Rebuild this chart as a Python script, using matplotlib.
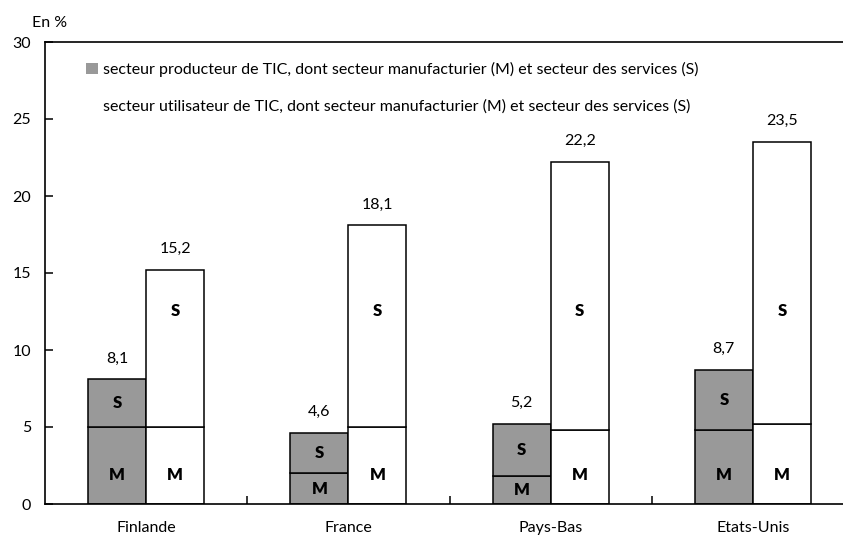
"""Part des secteurs producteur et utilisateur de TIC, par pays."""

import matplotlib.pyplot as plt
import numpy as np
from matplotlib.patches import Patch

plt.rcParams['font.family'] = ['Lato', 'DejaVu Sans']

countries = ['Finlande', 'France', 'Pays-Bas', 'Etats-Unis']

# Producer sector: total and manufacturing part (M), services (S) is the rest
prod_total = [8.1, 4.6, 5.2, 8.7]
prod_m = [5.0, 2.0, 1.8, 4.8]

# User sector: total and manufacturing part (M)
user_total = [15.2, 18.1, 22.2, 23.5]
user_m = [5.0, 5.0, 4.8, 5.2]

legend_labels = [
    'secteur producteur de TIC, dont secteur manufacturier (M) et secteur des services (S)',
    'secteur utilisateur de TIC, dont secteur manufacturier (M) et secteur des services (S)',
]

GRAY = '#999999'
FS = 11.5

fig = plt.figure(figsize=(8.43, 5.41), dpi=100)
ax = fig.add_axes([45 / 843, 37 / 541, 809 / 843, 462 / 541])

x = np.arange(len(countries))
w = 0.287
prod_s = np.array(prod_total) - np.array(prod_m)
user_s = np.array(user_total) - np.array(user_m)

bar_kw = dict(width=w, edgecolor='black', linewidth=1.1)
ax.bar(x - w / 2, prod_m, color=GRAY, **bar_kw)
ax.bar(x - w / 2, prod_s, bottom=prod_m, color=GRAY, **bar_kw)
ax.bar(x + w / 2, user_m, color='white', **bar_kw)
ax.bar(x + w / 2, user_s, bottom=user_m, color='white', **bar_kw)

# Totals above the bars
for xi, p, u in zip(x, prod_total, user_total):
    ax.annotate(f'{p:.1f}'.replace('.', ','), (xi - w / 2, p), xytext=(0, 15),
                textcoords='offset points', ha='center', va='center', fontsize=FS)
    ax.annotate(f'{u:.1f}'.replace('.', ','), (xi + w / 2, u), xytext=(0, 15),
                textcoords='offset points', ha='center', va='center', fontsize=FS)

# M / S segment letters
lab_kw = dict(ha='center', va='center', fontsize=12, fontweight='heavy')
for xi, pm, pt, um in zip(x, prod_m, prod_total, user_m):
    ax.text(xi - w / 2, min(pm / 2, 1.9), 'M', **lab_kw)
    ax.text(xi - w / 2, (pm + pt) / 2, 'S', **lab_kw)
    ax.text(xi + w / 2, min(um / 2, 1.9), 'M', **lab_kw)
    ax.text(xi + w / 2, 12.5, 'S', **lab_kw)

ax.set_xlim(-0.5, 3.5)
ax.set_ylim(0, 30)
ax.set_yticks(range(0, 31, 5))
ax.set_xticks(x)
ax.set_xticklabels(countries)
ax.set_xticks([0.5, 1.5, 2.5], minor=True)
ax.tick_params(axis='x', which='major', length=0, pad=12, labelsize=FS)
ax.tick_params(axis='x', which='minor', direction='in', length=6, width=1.1)
ax.tick_params(axis='y', direction='in', length=6, width=1.1, pad=10, labelsize=FS)

for side in ('left', 'bottom', 'top'):
    ax.spines[side].set_linewidth(1.2)
ax.spines['right'].set_visible(False)

handles = [Patch(facecolor=GRAY, edgecolor='none'),
           Patch(facecolor='white', edgecolor='none')]
ax.legend(handles, legend_labels, loc='upper left', bbox_to_anchor=(86 / 843, 1 - 62 / 541),
          bbox_transform=fig.transFigure, frameon=False, fontsize=FS,
          handlelength=0.75, handleheight=0.75, handletextpad=0.3,
          labelspacing=1.4, borderpad=0, borderaxespad=0)

fig.text(32 / 843, 1 - 23 / 541, 'En %', ha='left', va='center', fontsize=FS)

fig.savefig('out.png', dpi=100)
